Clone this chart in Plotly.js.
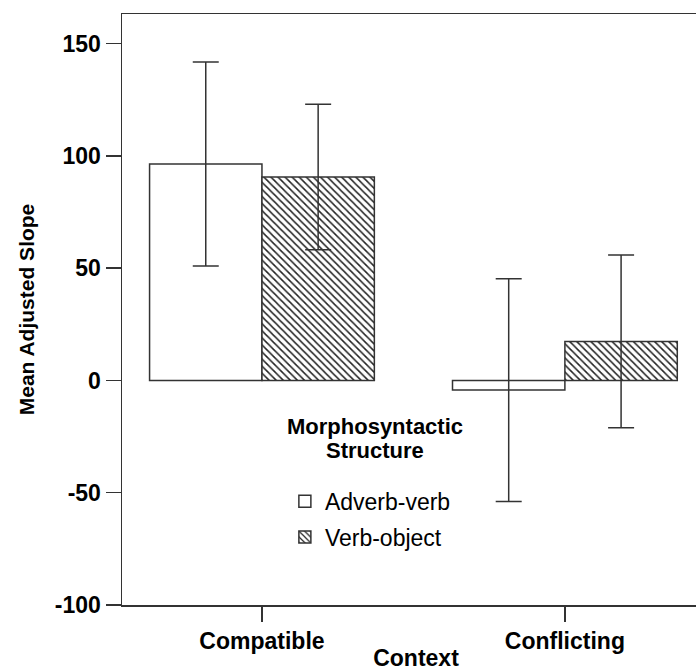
<!DOCTYPE html>
<html>
<head>
<meta charset="utf-8">
<script src="https://cdn.plot.ly/plotly-3.0.1.min.js"></script>
<style>
html,body{margin:0;padding:0;overflow:hidden;background:#fff;}
#chart{width:710px;height:671px;}
</style>
</head>
<body>
<div id="chart"></div>
<script>
const categories = ["Compatible", "Conflicting"];
const seriesNames = ["Adverb-verb", "Verb-object"];
const legendTitleLines = ["Morphosyntactic", "Structure"];
const adverbVerbMeans = [96.4, -4.3];
const adverbVerbErr = [45.4, 49.6];
const verbObjectMeans = [90.6, 17.4];
const verbObjectErr = [32.4, 38.5];
const yTickVals = [-100, -50, 0, 50, 100, 150];
const yTickText = ["-100", "-50", "0", "50", "100", "150"];

const fontFam = "Liberation Sans, Arial, sans-serif";
const lineCol = "#333333";

const traces = [
  {
    type: "bar", name: seriesNames[0], x: [0, 1], y: adverbVerbMeans,
    legendgroup: "a",
    marker: {color: "#ffffff", line: {color: lineCol, width: 1.5}},
    error_y: {type: "data", array: adverbVerbErr, visible: true, color: lineCol, thickness: 1.5, width: 13}
  },
  {
    type: "bar", name: seriesNames[1], x: [0, 1], y: verbObjectMeans,
    legendgroup: "b",
    marker: {color: "#ffffff", line: {color: lineCol, width: 1.5},
      pattern: {shape: "\\", size: 5, solidity: 0.3, fgcolor: "#222222", bgcolor: "#ffffff"}},
    error_y: {type: "data", array: verbObjectErr, visible: true, color: lineCol, thickness: 1.5, width: 13}
  }
];

const titleYs = [427, 451];
const annotations = legendTitleLines.map((t, i) => ({
  xref: "paper", yref: "paper", x: (375 - 122) / 588, y: (605.5 - titleYs[i]) / 591.5,
  xanchor: "center", yanchor: "middle", align: "center", showarrow: false,
  text: t,
  font: {family: fontFam, size: 22, weight: "bold", color: "#000"}
}));

const layout = {
  width: 710, height: 671,
  margin: {l: 122, r: 0, t: 14, b: 66},
  paper_bgcolor: "#ffffff", plot_bgcolor: "#ffffff",
  barmode: "group", bargap: 0.258, bargroupgap: 0,
  font: {family: fontFam, color: "#000000", size: 23},
  xaxis: {
    range: [-0.462, 1.479], tickvals: [0, 1], ticktext: categories,
    showline: true, linecolor: lineCol, linewidth: 1.5, mirror: true,
    ticks: "outside", ticklen: 15, tickwidth: 1.5, tickcolor: lineCol,
    showgrid: false, zeroline: false, automargin: false,
    tickfont: {family: fontFam, size: 23, weight: "bold", color: "#000"},
    title: {text: "Context", standoff: 0, font: {family: fontFam, size: 23, weight: "bold", color: "#000"}}
  },
  yaxis: {
    range: [-100, 163.2], tickvals: yTickVals, ticktext: yTickText,
    showline: true, linecolor: lineCol, linewidth: 1.5,
    ticks: "outside", ticklen: 15, tickwidth: 1.5, tickcolor: lineCol,
    showgrid: false, zeroline: false, automargin: false,
    tickfont: {family: fontFam, size: 23, weight: "bold", color: "#000"},
    title: {text: "Mean Adjusted Slope", standoff: 14, font: {family: fontFam, size: 21, weight: "bold", color: "#000"}}
  },
  showlegend: true,
  legend: {
    x: 0.277, y: 0.212, xanchor: "left", yanchor: "top",
    bgcolor: "rgba(0,0,0,0)", borderwidth: 0,
    traceorder: "grouped", tracegroupgap: 3,
    font: {family: fontFam, size: 23, color: "#000"}
  },
  annotations: annotations
};

Plotly.newPlot("chart", traces, layout, {displayModeBar: false, staticPlot: true});
</script>
</body>
</html>
